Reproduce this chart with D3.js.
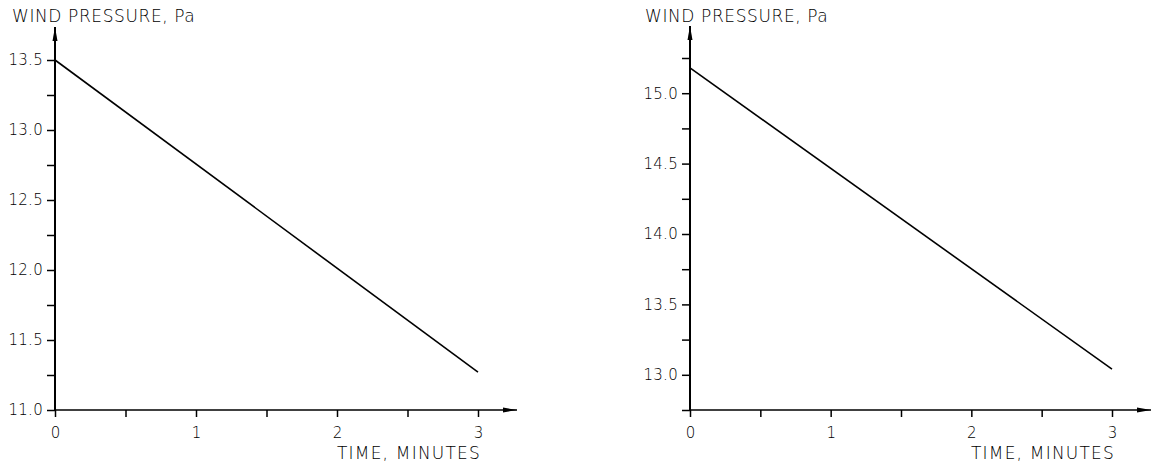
<!DOCTYPE html>
<html>
<head>
<meta charset="utf-8">
<script src="https://cdn.jsdelivr.net/npm/d3@7"></script>
<style>
    body { margin: 0; background: #fff; }
    svg text { font-family: "DejaVu Sans", sans-serif; font-weight: 200; fill: #000; }
</style>
</head>
<body>
<div id="chart"></div>
<script>
// Data
var timeMinutes = [0, 3];
var leftPressure = [13.5, 11.27];
var rightPressure = [15.18, 13.04];

var xTicks = [0, 0.5, 1, 1.5, 2, 2.5, 3];
var xLabels = [0, 1, 2, 3];
var leftYTicks = [11.0, 11.25, 11.5, 11.75, 12.0, 12.25, 12.5, 12.75, 13.0, 13.25, 13.5];
var leftYLabels = [11.0, 11.5, 12.0, 12.5, 13.0, 13.5];
var rightYTicks = [12.75, 13.0, 13.25, 13.5, 13.75, 14.0, 14.25, 14.5, 14.75, 15.0, 15.25];
var rightYLabels = [13.0, 13.5, 14.0, 14.5, 15.0];

var yTitle = 'WIND PRESSURE, Pa';
var xTitle = 'TIME, MINUTES';

var svg = d3.select('#chart')
    .append('svg')
    .attr('width', 1152)
    .attr('height', 466);

// Arrow marker for axis ends
svg.append('defs').append('marker')
    .attr('id', 'arrow')
    .attr('viewBox', '0 0 14 6')
    .attr('refX', 14)
    .attr('refY', 3)
    .attr('markerWidth', 14)
    .attr('markerHeight', 6)
    .attr('markerUnits', 'userSpaceOnUse')
    .attr('orient', 'auto')
    .append('path')
    .attr('d', 'M0,0.5 L14,3 L0,5.5 Z')
    .style('fill', '#000');

function drawPanel(opts) {
    var x = d3.scaleLinear().domain([0, 3]).range(opts.xRange);
    var y = d3.scaleLinear().domain(opts.yDomain).range(opts.yRange);
    var g = svg.append('g');
    var x0 = x(0), yBase = y(opts.yDomain[0]);

    // Y axis ticks and labels
    var yAxis = d3.axisLeft(y)
        .tickValues(opts.yTicks)
        .tickSize(8)
        .tickPadding(4)
        .tickFormat(function(d) {
            return opts.yLabels.indexOf(d) >= 0 ? d3.format('.1f')(d) : '';
        });
    var ya = g.append('g')
        .attr('transform', 'translate(' + x0 + ',0)')
        .call(yAxis);
    ya.select('.domain').remove();
    ya.selectAll('line').style('stroke', '#000').style('stroke-width', '1.5px');
    ya.selectAll('text').style('font-size', '15px').style('font-family', null)
        .style('fill', '#000').style('letter-spacing', '0.3px');

    // X axis ticks and labels
    var xAxis = d3.axisBottom(x)
        .tickValues(xTicks)
        .tickSize(7)
        .tickPadding(10)
        .tickFormat(function(d) {
            return xLabels.indexOf(d) >= 0 ? d3.format('d')(d) : '';
        });
    var xa = g.append('g')
        .attr('transform', 'translate(0,' + yBase + ')')
        .call(xAxis);
    xa.select('.domain').remove();
    xa.selectAll('line').style('stroke', '#000').style('stroke-width', '1.5px');
    xa.selectAll('text').style('font-size', '15px').style('font-family', null)
        .style('fill', '#000');

    // Axis lines with arrows
    g.append('line')
        .attr('x1', x0).attr('y1', yBase)
        .attr('x2', x0).attr('y2', opts.yTip)
        .style('stroke', '#000').style('stroke-width', '2px')
        .attr('marker-end', 'url(#arrow)');
    g.append('line')
        .attr('x1', x0).attr('y1', yBase)
        .attr('x2', opts.xTip).attr('y2', yBase)
        .style('stroke', '#000').style('stroke-width', '1.5px')
        .attr('marker-end', 'url(#arrow)');

    // Data line
    var line = d3.line()
        .x(function(d, i) { return x(timeMinutes[i]); })
        .y(function(d) { return y(d); });
    g.append('path')
        .datum(opts.values)
        .attr('d', line)
        .style('fill', 'none')
        .style('stroke', '#000')
        .style('stroke-width', '1.6px');

    // Titles
    g.append('text')
        .attr('x', opts.yTitleX)
        .attr('y', 22)
        .style('font-size', '17px')
        .style('letter-spacing', '0.6px')
        .text(yTitle);
    g.append('text')
        .attr('x', x(3) + 3)
        .attr('y', 459)
        .attr('text-anchor', 'end')
        .style('font-size', '17px')
        .style('letter-spacing', '1.2px')
        .text(xTitle);
}

drawPanel({
    xRange: [55, 478],
    yDomain: [11.0, 13.5],
    yRange: [410, 60],
    yTicks: leftYTicks,
    yLabels: leftYLabels,
    values: leftPressure,
    yTip: 27,
    xTip: 517,
    yTitleX: 12
});

drawPanel({
    xRange: [690, 1112],
    yDomain: [12.75, 15.25],
    yRange: [410, 58],
    yTicks: rightYTicks,
    yLabels: rightYLabels,
    values: rightPressure,
    yTip: 26,
    xTip: 1151,
    yTitleX: 645
});
</script>
</body>
</html>
